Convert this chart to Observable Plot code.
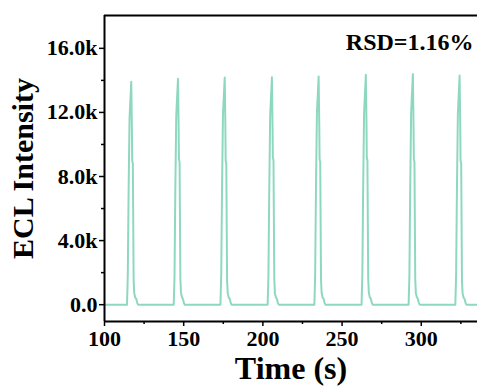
<!DOCTYPE html>
<html>
<head>
<meta charset="utf-8">
<script src="https://cdn.jsdelivr.net/npm/d3@7"></script>
<script src="https://cdn.jsdelivr.net/npm/@observablehq/plot@0.6"></script>
<style>
  html, body { margin: 0; padding: 0; background: white; }
</style>
</head>
<body>
<div id="chart"></div>
<script>
// Baseline ends
const baseStartT = [100];
const baseStartI = [0];
const baseEndT = [335.5];
const baseEndI = [0];

// ECL peaks (time in s, intensity in counts)
const peak1T = [114.2, 114.7, 115.2, 115.8, 116.9, 117.3, 117.5, 117.9, 118.4, 118.8, 119.4, 120.1, 120.7, 121.2];
const peak1I = [0, 1800, 6900, 11600, 13920, 11000, 9000, 8800, 1500, 700, 450, 350, 100, 0];
const peak2T = [143.7, 144.2, 144.7, 145.3, 146.4, 146.8, 147.0, 147.4, 147.9, 148.3, 148.9, 149.6, 150.2, 150.7];
const peak2I = [0, 1700, 7000, 11800, 14100, 11200, 9100, 8900, 1600, 750, 480, 330, 90, 0];
const peak3T = [173.2, 173.7, 174.2, 174.8, 175.9, 176.3, 176.5, 176.9, 177.4, 177.8, 178.4, 179.1, 179.7, 180.2];
const peak3I = [0, 1900, 7100, 11900, 14180, 11300, 9000, 8800, 1500, 720, 460, 360, 110, 0];
const peak4T = [203.0, 203.5, 204.0, 204.6, 205.7, 206.1, 206.3, 206.7, 207.2, 207.6, 208.2, 208.9, 209.5, 210.0];
const peak4I = [0, 1800, 7000, 11800, 14200, 11100, 9200, 9000, 1600, 700, 470, 340, 100, 0];
const peak5T = [232.5, 233.0, 233.5, 234.1, 235.2, 235.6, 235.8, 236.2, 236.7, 237.1, 237.7, 238.4, 239.0, 239.5];
const peak5I = [0, 1850, 7050, 11900, 14250, 11200, 9100, 8900, 1550, 730, 450, 350, 100, 0];
const peak6T = [262.3, 262.8, 263.3, 263.9, 265.0, 265.4, 265.6, 266.0, 266.5, 266.9, 267.5, 268.2, 268.8, 269.3];
const peak6I = [0, 1900, 7200, 12000, 14350, 11400, 9200, 9000, 1600, 740, 470, 360, 110, 0];
const peak7T = [292.0, 292.5, 293.0, 293.6, 294.7, 295.1, 295.3, 295.7, 296.2, 296.6, 297.2, 297.9, 298.5, 299.0];
const peak7I = [0, 1800, 7100, 12000, 14400, 11300, 9100, 8900, 1550, 720, 460, 350, 100, 0];
const peak8T = [321.5, 322.0, 322.5, 323.1, 324.2, 324.6, 324.8, 325.2, 325.7, 326.1, 326.7, 327.4, 328.0, 328.5];
const peak8I = [0, 1850, 7000, 11900, 14300, 11200, 9000, 8800, 1500, 700, 450, 340, 100, 0];

// Axis ticks
const xMajor = [100, 150, 200, 250, 300];
const xMinor = [125, 175, 225, 275, 325];
const yMajor = [0, 4000, 8000, 12000, 16000];
const yMinor = [2000, 6000, 10000, 14000];
const yTickLabels = ["0.0", "4.0k", "8.0k", "12.0k", "16.0k"];

const xTitle = "Time (s)";
const yTitle = "ECL Intensity";
const note = "RSD=1.16%";
const lineColor = "#8fd8c0";

const allT = [].concat(baseStartT, peak1T, peak2T, peak3T, peak4T, peak5T, peak6T, peak7T, peak8T, baseEndT);
const allI = [].concat(baseStartI, peak1I, peak2I, peak3I, peak4I, peak5I, peak6I, peak7I, peak8I, baseEndI);
const data = allT.map((t, i) => ({t, v: allI[i]}));

const yDomain = [-1050, 18050];

const chart = Plot.plot({
  width: 477,
  height: 388,
  marginLeft: 104,
  marginRight: 0,
  marginTop: 15,
  marginBottom: 67,
  x: {domain: [100, 335.5]},
  y: {domain: yDomain},
  style: {
    fontFamily: "'Liberation Serif', 'Times New Roman', serif",
    fontWeight: "bold",
    background: "white",
    color: "black",
    overflow: "visible"
  },
  marks: [
    Plot.line(data, {x: "t", y: "v", stroke: lineColor, strokeWidth: 2}),
    Plot.axisX({ticks: xMajor, tickSize: 5, strokeWidth: 1.5, fontSize: 22, tickPadding: 4, label: null, tickFormat: d => String(d)}),
    Plot.axisX({ticks: xMinor, tickSize: 3, strokeWidth: 1.5, text: null, label: null}),
    Plot.axisY({ticks: yMajor, tickSize: 5, strokeWidth: 1.5, fontSize: 22, tickPadding: 2, label: null,
      tickFormat: d => yTickLabels[yMajor.indexOf(d)]}),
    Plot.axisY({ticks: yMinor, tickSize: 3, strokeWidth: 1.5, text: null, label: null}),
    Plot.ruleX([100], {strokeWidth: 2}),
    Plot.ruleY([yDomain[0], yDomain[1]], {strokeWidth: 2}),
    Plot.text([note], {frameAnchor: "top-right", dx: -4, dy: 17, fontSize: 24, fontWeight: "bold"}),
    Plot.text([xTitle], {frameAnchor: "bottom", lineAnchor: "middle", textAnchor: "middle", dy: 47, fontSize: 32, fontWeight: "bold"}),
    Plot.text([yTitle], {frameAnchor: "left", lineAnchor: "middle", textAnchor: "middle", dx: -81, rotate: -90, fontSize: 30, fontWeight: "bold"})
  ]
});
document.getElementById("chart").appendChild(chart);
</script>
</body>
</html>
